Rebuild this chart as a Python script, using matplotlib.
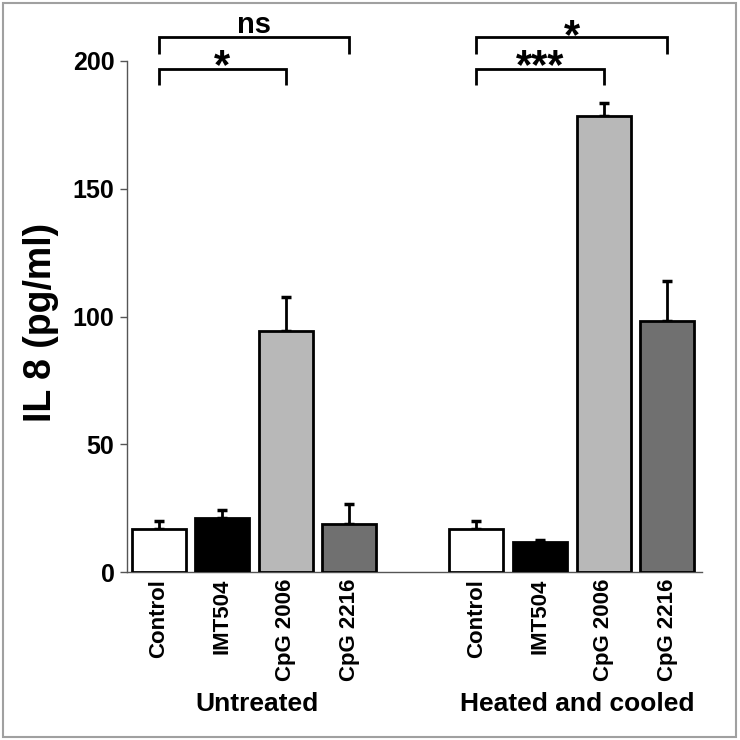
import matplotlib
matplotlib.use("Agg")
import matplotlib.pyplot as plt
from matplotlib.patches import Rectangle
import numpy as np

plt.rcParams['font.family'] = ['Liberation Sans', 'DejaVu Sans']
plt.rcParams['font.weight'] = 'bold'

# ---- data ----
categories = ["Control", "IMT504", "CpG 2006", "CpG 2216"]
groups = ["Untreated", "Heated and cooled"]
untreated_means = [16.9, 21.0, 94.3, 18.8]
untreated_err = [3.2, 3.3, 13.2, 7.8]
heated_means = [16.9, 11.6, 178.6, 98.4]
heated_err = [3.2, 0.9, 4.8, 15.6]
bar_colors = ["#ffffff", "#000000", "#b8b8b8", "#707070"]
yticks = [0, 50, 100, 150, 200]
sig_labels = ["*", "ns", "***", "*"]

W, H = 740, 740
fig = plt.figure(figsize=(W / 100, H / 100), dpi=100)

# axes placement in pixels
x0, x1 = 127, 702
y0, y1 = 572, 61
ax = fig.add_axes([x0 / W, 1 - y0 / H, (x1 - x0) / W, (y0 - y1) / H])

pos_u = np.arange(4)
pos_h = np.arange(4) + 5
positions = np.concatenate([pos_u, pos_h])
means = untreated_means + heated_means
errs = untreated_err + heated_err
colors = bar_colors + bar_colors

ax.bar(positions, means, width=0.85, color=colors, edgecolor="black",
       linewidth=2, zorder=3)
ax.errorbar(positions, means, yerr=[np.zeros(len(errs)), errs], fmt="none",
            ecolor="black", elinewidth=2, capsize=3.8, capthick=2.5, zorder=2)

ax.set_xlim(-0.5, 8.55)
ax.set_ylim(0, 200)

for s in ["top", "right"]:
    ax.spines[s].set_visible(False)
ax.spines["left"].set_color("#555555")
ax.spines["left"].set_linewidth(1)
ax.spines["bottom"].set_color("#555555")
ax.spines["bottom"].set_linewidth(1)

ax.set_yticks(yticks)
ax.set_yticklabels([str(t) for t in yticks], fontsize=18, fontweight="bold")
ax.tick_params(axis="y", length=5, width=1, color="#555555", pad=4)

ax.set_xticks(positions)
ax.set_xticklabels(categories + categories, rotation=90, fontsize=16,
                   fontweight="bold", va="top")
ax.tick_params(axis="x", length=0, pad=5)

ax.set_ylabel("IL 8 (pg/ml)", fontsize=27, fontweight="bold", labelpad=10)
ax.yaxis.label.set_y(0.489)

# group labels
ax.text(1.55, -0.258, groups[0], transform=ax.get_xaxis_transform(),
        ha="center", va="center", fontsize=19, fontweight="bold")
ax.text(6.58, -0.258, groups[1], transform=ax.get_xaxis_transform(),
        ha="center", va="center", fontsize=19, fontweight="bold")

# significance brackets
def bracket(xa, xb, ytop, ybot, label, ytext, fs):
    ax.plot([xa, xa, xb, xb], [ybot, ytop, ytop, ybot], color="black",
            lw=2, clip_on=False, solid_capstyle="butt", solid_joinstyle="miter")
    ax.text((xa + xb) / 2, ytext, label, ha="center", va="baseline",
            fontsize=fs, fontweight="bold", clip_on=False)

bracket(pos_u[0], pos_u[2], 197.0, 190.5, sig_labels[0], 193.5, 30)
bracket(pos_u[0], pos_u[3], 209.4, 202.7, sig_labels[1], 211.0, 21)
bracket(pos_h[0], pos_h[2], 197.0, 190.5, sig_labels[2], 193.5, 30)
bracket(pos_h[0], pos_h[3], 209.4, 202.7, sig_labels[3], 205.0, 30)

# figure border
fig.patches.append(Rectangle((3 / W, 3 / H), (736 - 3) / W, (737 - 3) / H,
                             transform=fig.transFigure, fill=False,
                             edgecolor="#a0a0a0", linewidth=1.5))

fig.savefig("out.png", dpi=100)
